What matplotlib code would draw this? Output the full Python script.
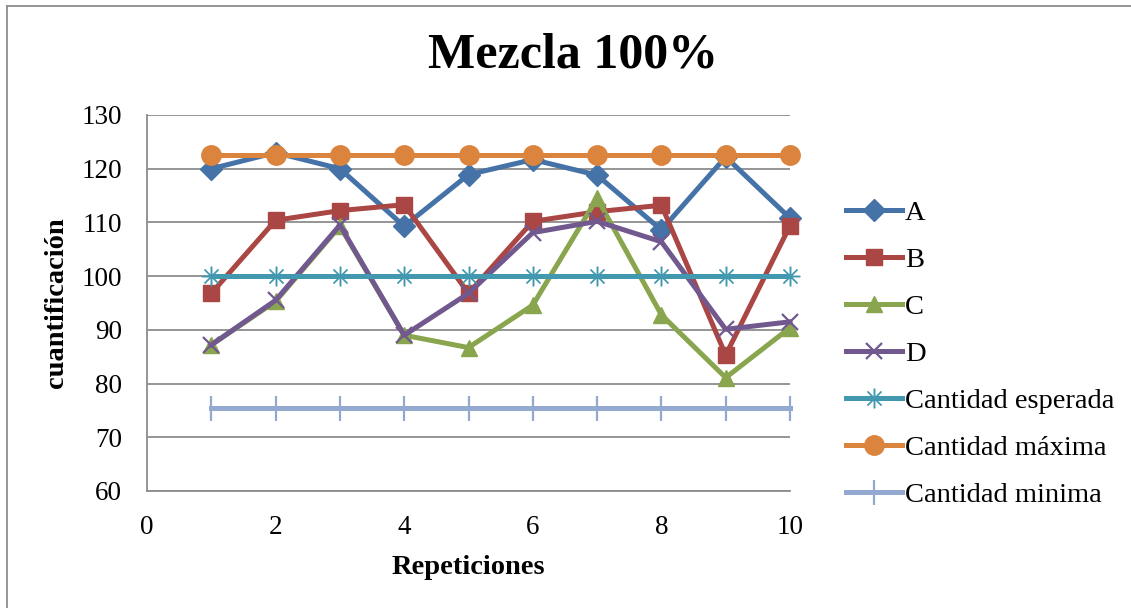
import matplotlib
matplotlib.use("Agg")
import matplotlib.pyplot as plt
from matplotlib.lines import Line2D

x = [1, 2, 3, 4, 5, 6, 7, 8, 9, 10]
A = [120.0, 123.0, 120.0, 109.3, 118.9, 121.7, 118.8, 108.6, 122.2, 110.8]
B = [96.8, 110.4, 112.2, 113.3, 96.8, 110.2, 112.0, 113.2, 85.3, 109.4]
C = [87.2, 95.3, 109.3, 89.0, 86.7, 94.6, 114.5, 92.8, 81.1, 90.4]
D = [87.2, 95.5, 109.5, 89.0, 96.8, 108.1, 110.2, 106.4, 90.1, 91.5]
esperada = [100] * 10
maxima = [122.5] * 10
minima = [75.5] * 10

names = ["A", "B", "C", "D", "Cantidad esperada", "Cantidad máxima", "Cantidad minima"]
colors = ["#4572A7", "#AA4643", "#89A54E", "#71588F", "#4198AF", "#DB843D", "#93A9CF"]
markers = ["D", "s", "^", "x", "$\u2733$", "o", "|"]
msizes = [11, 12, 12, 12, 14, 14, 14]

plt.rcParams["font.family"] = ["Liberation Serif", "DejaVu Serif"]

fig = plt.figure(figsize=(11.31, 6.08), dpi=100)
ax = fig.add_axes([147 / 1131, 1 - 491 / 608, (790 - 147) / 1131, (491 - 115) / 608])

series = [A, B, C, D, esperada, maxima, minima]
for i, (ys, nm, c, m, ms) in enumerate(zip(series, names, colors, markers, msizes)):
    kw = dict(color=c, lw=3.6, marker=m, markersize=ms, label=nm,
              markerfacecolor=c, markeredgecolor=c, zorder=3 + i, clip_on=False)
    if m == "x":
        kw.update(markeredgewidth=1.6)
    elif m == "|":
        kw.update(markeredgewidth=1.6, markersize=18)
    elif m.startswith("$"):
        kw.update(markeredgewidth=0.3)
    ax.plot(x, ys, **kw)

ax.set_xlim(0, 10)
ax.set_ylim(60, 130)
ax.set_xticks([0, 2, 4, 6, 8, 10])
ax.set_yticks(range(60, 131, 10))
ax.grid(axis="y", color="#8c8c8c", lw=1.3, zorder=0)
ax.set_axisbelow(True)
for s in ["top", "right"]:
    ax.spines[s].set_visible(False)
for s in ["left", "bottom"]:
    ax.spines[s].set_color("#8c8c8c")
    ax.spines[s].set_linewidth(1.3)
ax.tick_params(length=0, labelsize=19.5)
ax.tick_params(axis="y", pad=18)
ax.tick_params(axis="x", pad=17)

fig.text(573 / 1131, 1 - 55 / 608, "Mezcla 100%", fontsize=36, fontweight="bold",
         ha="center", va="center")
ax.set_xlabel("Repeticiones", fontsize=20.5, fontweight="bold", labelpad=11)
ax.set_ylabel("cuantificación", fontsize=20.5, fontweight="bold", labelpad=9)

leg = ax.legend(loc="upper left", bbox_to_anchor=(1.07, 0.805), frameon=False,
                fontsize=20.5, handlelength=1.95, handletextpad=0.1,
                labelspacing=0.74, borderaxespad=0)

# outer chart border (left and top visible)
fig.add_artist(Line2D([7 / 1131, 7 / 1131], [0, 1 - 6 / 608], transform=fig.transFigure,
                      color="#8c8c8c", lw=1.3))
fig.add_artist(Line2D([7 / 1131, 1], [1 - 6 / 608, 1 - 6 / 608], transform=fig.transFigure,
                      color="#8c8c8c", lw=1.3))

fig.savefig("out.png", dpi=100)
